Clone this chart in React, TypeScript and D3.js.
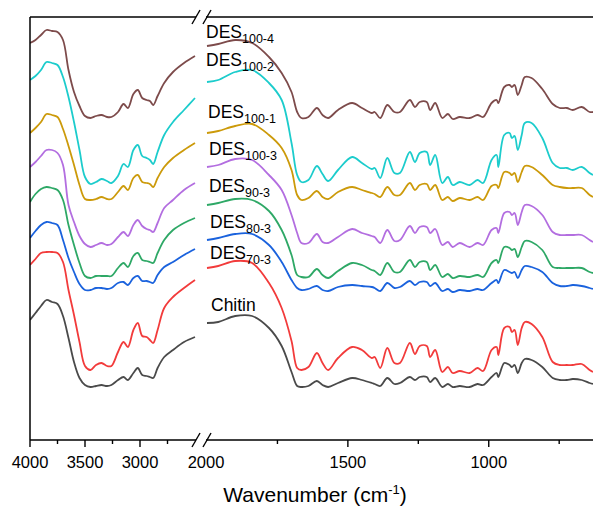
import React from "react";
import * as d3 from "d3";

// Wavenumber grids (cm-1) for the two panels of the broken axis
const wnHigh = [4000, 3950, 3900, 3850, 3800, 3750, 3700, 3650, 3600, 3550, 3500, 3450, 3400, 3350, 3300, 3260, 3200, 3150, 3110, 3060, 3020, 2980, 2940, 2910, 2880, 2840, 2780, 2700, 2600, 2500];
const wnLow = [2000, 1960, 1900, 1840, 1780, 1735, 1700, 1680, 1665, 1640, 1610, 1590, 1570, 1535, 1485, 1450, 1415, 1405, 1385, 1360, 1335, 1315, 1280, 1262, 1245, 1220, 1208, 1190, 1165, 1145, 1128, 1103, 1068, 1040, 1020, 990, 972, 966, 945, 926, 918, 908, 897, 883, 872, 848, 810, 773, 748, 723, 702, 670, 642, 630];

// Stacked transmittance (a.u.)
const des1004High = [397, 400, 405, 410, 409, 408, 400, 370, 348, 334, 324, 322, 324, 325, 323, 323, 328, 336, 332, 346, 350, 342, 340, 339, 335, 344, 357, 368, 377, 384];
const des1004Low = [394, 396, 400, 397, 383, 367, 348, 328, 322, 323, 332, 325, 322, 330, 337, 332, 327, 328, 322, 335, 328, 328, 340, 333, 338, 338, 330, 337, 322, 326, 321, 323, 322, 325, 323, 337, 340, 337, 353, 355, 353, 355, 345, 355, 363, 362, 351, 336, 332, 332, 330, 333, 328, 328];

const des1002High = [360, 364, 370, 378, 377, 375, 363, 343, 318, 290, 263, 256, 258, 261, 259, 257, 264, 276, 273, 290, 295, 284, 282, 280, 276, 288, 305, 318, 330, 342];
const des1002Low = [358, 360, 368, 370, 357, 340, 297, 265, 258, 260, 274, 266, 259, 270, 283, 277, 271, 272, 262, 282, 267, 267, 288, 278, 287, 288, 275, 285, 257, 263, 255, 258, 255, 260, 257, 280, 285, 273, 305, 307, 302, 304, 290, 305, 317, 317, 302, 277, 272, 272, 270, 273, 267, 265];

const des1001High = [307, 312, 318, 326, 325, 323, 311, 294, 275, 255, 241, 240, 241, 243, 241, 241, 248, 254, 250, 262, 265, 258, 257, 256, 253, 262, 273, 282, 290, 297];
const des1001Low = [307, 309, 314, 316, 305, 292, 270, 245, 240, 242, 249, 243, 241, 248, 253, 250, 247, 246, 243, 253, 245, 245, 257, 250, 255, 256, 250, 255, 240, 243, 239, 242, 240, 243, 240, 254, 255, 252, 268, 267, 265, 267, 258, 268, 274, 273, 265, 255, 253, 252, 252, 252, 245, 243];

const des1003High = [273, 278, 284, 290, 290, 287, 275, 235, 218, 204, 196, 193, 195, 197, 195, 196, 203, 208, 204, 215, 220, 214, 211, 210, 208, 217, 232, 240, 250, 257];
const des1003Low = [273, 275, 281, 280, 265, 250, 225, 207, 197, 197, 206, 198, 197, 203, 211, 207, 204, 203, 197, 210, 199, 200, 214, 207, 213, 213, 207, 211, 195, 198, 193, 197, 193, 197, 195, 210, 212, 207, 227, 228, 225, 227, 215, 228, 235, 234, 225, 208, 205, 205, 205, 205, 200, 198];

const des903High = [238, 246, 251, 253, 252, 250, 240, 215, 195, 177, 164, 162, 164, 164, 164, 164, 172, 177, 173, 184, 187, 180, 179, 178, 177, 187, 200, 210, 217, 222];
const des903Low = [235, 237, 241, 240, 229, 210, 185, 165, 163, 163, 171, 165, 162, 169, 177, 175, 170, 169, 165, 177, 168, 168, 180, 173, 178, 178, 170, 175, 163, 166, 162, 164, 163, 165, 163, 177, 180, 177, 193, 192, 190, 191, 183, 193, 199, 198, 190, 173, 172, 172, 172, 172, 168, 167];

const des803High = [202, 209, 215, 218, 217, 215, 200, 182, 168, 156, 150, 150, 152, 152, 151, 152, 157, 158, 155, 162, 164, 159, 159, 158, 157, 165, 173, 178, 185, 191];
const des803Low = [200, 202, 206, 206, 195, 178, 160, 152, 150, 151, 154, 150, 149, 153, 155, 154, 153, 152, 149, 157, 152, 153, 159, 155, 158, 158, 154, 157, 149, 151, 148, 150, 149, 151, 150, 157, 160, 157, 170, 168, 167, 168, 162, 170, 174, 173, 168, 157, 154, 154, 155, 154, 152, 151];

const des703High = [175, 181, 187, 188, 188, 187, 178, 150, 125, 98, 74, 70, 75, 77, 74, 74, 88, 98, 93, 110, 117, 104, 103, 100, 97, 110, 132, 143, 152, 160];
const des703Low = [172, 174, 179, 177, 157, 132, 99, 72, 70, 73, 87, 77, 70, 82, 93, 90, 82, 83, 72, 92, 77, 77, 97, 86, 94, 94, 83, 90, 68, 73, 67, 69, 67, 72, 69, 90, 93, 85, 112, 113, 108, 110, 95, 112, 118, 116, 103, 78, 75, 75, 75, 76, 70, 68];

const chitinHigh = [120, 127, 134, 140, 138, 136, 124, 102, 78, 62, 55, 53, 54, 55, 54, 55, 60, 63, 60, 67, 72, 65, 64, 63, 62, 72, 83, 90, 98, 103];
const chitinLow = [117, 118, 124, 124, 112, 94, 68, 54, 53, 54, 59, 55, 53, 57, 62, 60, 57, 56, 54, 62, 56, 57, 63, 60, 63, 63, 58, 62, 53, 56, 53, 54, 53, 56, 55, 63, 67, 63, 77, 75, 73, 75, 67, 77, 81, 80, 73, 62, 60, 60, 61, 60, 57, 56];

const seriesNames = ["DES100-4", "DES100-2", "DES100-1", "DES100-3", "DES90-3", "DES80-3", "DES70-3", "Chitin"];
const seriesHigh = [des1004High, des1002High, des1001High, des1003High, des903High, des803High, des703High, chitinHigh];
const seriesLow = [des1004Low, des1002Low, des1001Low, des1003Low, des903Low, des803Low, des703Low, chitinLow];
const seriesColors = ["#7d4b4b", "#1ccccc", "#cc9a0a", "#b36ee0", "#2ea866", "#1a62dd", "#f23b3b", "#4a4a4a"];
const labelMain = ["DES", "DES", "DES", "DES", "DES", "DES", "DES", "Chitin"];
const labelSub = ["100-4", "100-2", "100-1", "100-3", "90-3", "80-3", "70-3", ""];
const labelBaselines = [38, 66, 118, 155, 192, 228, 259, 311];
const labelXs = [206, 206, 208, 209, 209, 210, 210, 211];

const ticksHigh = [4000, 3500, 3000];
const minorHigh = [3750, 3250, 2750];
const ticksLow = [2000, 1500, 1000];
const minorLow = [1750, 1250, 750];

export default function App() {
  const W = 593, H = 506;
  const left = 30, top = 17, bottom = 440, right = 593;
  const breakL = 196, breakR = 206;
  const xHigh = d3.scaleLinear().domain([4000, 2500]).range([left, 195]);
  const xLow = d3.scaleLinear().domain([2000, 630]).range([207, right]);
  const y = d3.scaleLinear().domain([0, 423]).range([bottom, top]);

  const mk = (xs: d3.ScaleLinear<number, number>, wn: number[]) =>
    d3.line<number>()
      .x((_, i) => xs(wn[i]))
      .y((v) => y(v))
      .curve(d3.curveCatmullRom.alpha(0.5));

  const lineHigh = mk(xHigh, wnHigh);
  const lineLow = mk(xLow, wnLow);
  const font = "Arial, 'Liberation Sans', sans-serif";

  const order = [7, 6, 5, 4, 3, 2, 1, 0];

  const slash = (cx: number, cy: number) => (
    <line x1={cx - 4} y1={cy + 7} x2={cx + 4} y2={cy - 7} stroke="#000" strokeWidth={1.4} />
  );

  return (
    <svg width={W} height={H} style={{ position: "absolute", left: 0, top: 0, background: "#fff" }}>
      <rect x={0} y={0} width={W} height={H} fill="#fff" />
      <g clipPath="url(#clipAll)">
        <defs>
          <clipPath id="clipAll">
            <rect x={left} y={top} width={right - left} height={bottom - top} />
          </clipPath>
        </defs>
        {order.map((k) => (
          <g key={k}>
            <path d={lineHigh(seriesHigh[k]) || ""} fill="none" stroke={seriesColors[k]} strokeWidth={1.8} strokeLinejoin="round" />
            <path d={lineLow(seriesLow[k]) || ""} fill="none" stroke={seriesColors[k]} strokeWidth={1.8} strokeLinejoin="round" />
          </g>
        ))}
      </g>

      {/* frame */}
      <line x1={left} y1={top} x2={left} y2={bottom} stroke="#000" strokeWidth={1.5} />
      <line x1={left} y1={top} x2={breakL} y2={top} stroke="#000" strokeWidth={1.5} />
      <line x1={breakR} y1={top} x2={right} y2={top} stroke="#000" strokeWidth={1.5} />
      <line x1={left} y1={bottom} x2={breakL} y2={bottom} stroke="#000" strokeWidth={1.5} />
      <line x1={breakR} y1={bottom} x2={right} y2={bottom} stroke="#000" strokeWidth={1.5} />
      {slash(breakL, top)}
      {slash(breakR + 1, top)}
      {slash(breakL, bottom)}
      {slash(breakR + 1, bottom)}

      {/* ticks */}
      {ticksHigh.map((t) => (
        <g key={"th" + t}>
          <line x1={xHigh(t)} x2={xHigh(t)} y1={bottom} y2={bottom + 7} stroke="#000" strokeWidth={1.4} />
          <text x={xHigh(t)} y={468} textAnchor="middle" fontFamily={font} fontSize={16.5} fill="#000">{t}</text>
        </g>
      ))}
      {minorHigh.map((t) => (
        <line key={"mh" + t} x1={xHigh(t)} x2={xHigh(t)} y1={bottom} y2={bottom + 4} stroke="#000" strokeWidth={1.4} />
      ))}
      {ticksLow.map((t) => (
        <g key={"tl" + t}>
          {t !== 2000 && <line x1={xLow(t)} x2={xLow(t)} y1={bottom} y2={bottom + 7} stroke="#000" strokeWidth={1.4} />}
          <text x={xLow(t) - (t === 2000 ? 1 : 0)} y={468} textAnchor="middle" fontFamily={font} fontSize={16.5} fill="#000">{t}</text>
        </g>
      ))}
      {minorLow.map((t) => (
        <line key={"ml" + t} x1={xLow(t)} x2={xLow(t)} y1={bottom} y2={bottom + 4} stroke="#000" strokeWidth={1.4} />
      ))}

      {/* axis title */}
      <text x={315} y={502} textAnchor="middle" fontFamily={font} fontSize={21} fill="#000">
        Wavenumber (cm<tspan fontSize={13} dy={-8}>-1</tspan><tspan dy={8}>)</tspan>
      </text>

      {/* series labels */}
      {seriesNames.map((n, i) => (
        <text key={n} x={labelXs[i]} y={labelBaselines[i]} fontFamily={font} fontSize={17.5} fill="#000">
          {labelMain[i]}
          {labelSub[i] && <tspan fontSize={12.5} dy={5}>{labelSub[i]}</tspan>}
        </text>
      ))}
    </svg>
  );
}
